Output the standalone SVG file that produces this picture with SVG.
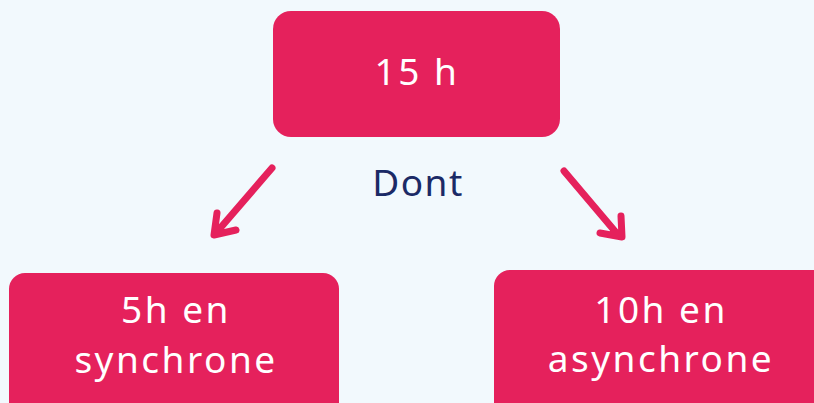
<svg xmlns="http://www.w3.org/2000/svg" width="814" height="403" viewBox="0 0 814 403">
<style>
.box{fill:#e5215c}
.t{font-family:"Noto Sans","Open Sans",sans-serif;font-size:37px;fill:#ffffff;text-anchor:middle;letter-spacing:2.5px}
.lbl{font-family:"Noto Sans","Open Sans",sans-serif;font-size:37px;fill:#1b2a66;text-anchor:middle;letter-spacing:1.5px}
.arr{fill:none;stroke:#e5215c;stroke-width:7;stroke-linecap:round;stroke-linejoin:round}
</style>
<rect width="814" height="403" fill="#f2f9fd"/>
<g id="top">
<rect class="box" x="273" y="11" width="287" height="126" rx="18"/>
<text class="t" x="417" y="85">15 h</text>
</g>
<g id="left">
<rect class="box" x="9" y="273" width="330" height="160" rx="16"/>
<text class="t" x="176" y="323">5h en</text>
<text class="t" x="176" y="373">synchrone</text>
</g>
<g id="right">
<rect class="box" x="494" y="270" width="350" height="160" rx="16"/>
<text class="t" x="661" y="323">10h en</text>
<text class="t" x="661" y="372">asynchrone</text>
</g>
<g id="dont">
<text class="lbl" x="418" y="196">Dont</text>
</g>
<g id="connectors">
<path class="arr" d="M272,168 L216,233 M217,213 L214,235 L236,230"/>
<path class="arr" d="M564,171 L619,236 M621,216 L622,237 L600,233"/>
</g>
</svg>
